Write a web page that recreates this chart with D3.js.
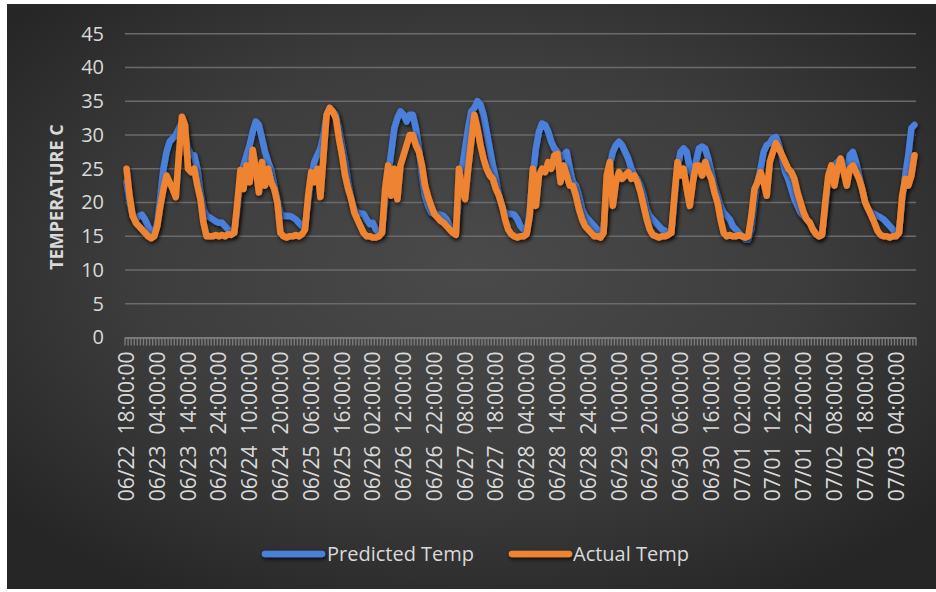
<!DOCTYPE html>
<html>
<head>
<meta charset="utf-8">
<script src="https://cdn.jsdelivr.net/npm/d3@7"></script>
<style>
  html, body { margin: 0; padding: 0; background: #ffffff; }
  svg { display: block; }
</style>
</head>
<body>
<svg id="chart" width="936" height="592"></svg>
<script>
// Hourly readings starting 06/22 18:00, one value per hour
const predictedTemp = [
  23, 20, 18, 17.5, 18, 18.2,
  17.5, 16.5, 15.5, 15.5, 17, 21, 25, 27.5, 29, 29.5, 30, 31, 32, 30, 28, 27, 27, 25, 21.5, 19, 18, 17.8, 17.5, 17.2,
  17, 17, 16.5, 16, 15.5, 15.5, 19, 23, 25.5, 27, 28.5, 30.5, 32, 31.5, 29.5, 27.5, 26, 24.8, 22.5, 20.5, 18.4, 18, 18, 18,
  17.8, 17.5, 17, 16.5, 16.5, 20, 23.5, 26, 27, 28, 30, 33, 34, 33.5, 33, 31, 28.5, 26, 23, 20.5, 19, 18.5, 18.4, 18.3,
  17.5, 16.8, 17, 16, 15.5, 15.5, 20, 24, 27.5, 31, 32.5, 33.5, 33, 32, 33, 33, 31, 28, 24, 21, 19.5, 18.5, 18.3, 18.3,
  18.2, 18, 17.5, 16.5, 16, 15.5, 21, 25, 28, 31, 33.5, 34, 35, 34.5, 33, 30.5, 28, 25.5, 23.5, 21, 19.5, 18.5, 18.3, 18.3,
  18.2, 17.5, 16.5, 16, 15.5, 19, 24, 28, 30.5, 31.7, 31.5, 30.5, 29, 28, 27.5, 26.5, 27, 27.5, 25, 23, 22.5, 21, 19, 18,
  17.5, 17, 16.5, 16, 15.5, 16, 22, 25.5, 27.5, 28.5, 29, 28.5, 27.5, 26.5, 25, 24, 23.5, 22.5, 21, 19, 18, 17.5, 17, 16.5,
  16, 15.8, 15.3, 15.5, 20, 25, 27.5, 28, 27.5, 25, 24, 26, 28, 28.3, 28, 26.5, 24.5, 22.5, 21, 19.5, 18.5, 18, 17.5, 16.5,
  16, 15.5, 15, 14.5, 14.5, 16, 20, 23, 25, 27.5, 28.5, 28.8, 29.5, 29.7, 28.5, 26.5, 24.5, 23.5, 22, 20.5, 19.5, 18.5, 18, 17.5,
  17, 16, 15.5, 15, 15.5, 19, 23, 25, 25.5, 26, 26.5, 25.5, 24.5, 27, 27.5, 26, 24, 22, 20, 19, 18.5, 18.3, 18, 17.8,
  17.5, 17, 16.5, 16, 15.3, 16, 20, 24, 27, 31, 31.5
];

const actualTemp = [
  25, 21, 18, 17, 16.5, 16,
  15.5, 15, 14.7, 15, 16.5, 19.5, 22, 24, 23, 22, 20.8, 27, 32.7, 31.5, 25, 24.5, 25, 22.5, 20.5, 17, 15, 15, 15, 15.2,
  15, 15.2, 15, 15.3, 15.2, 15.5, 20, 24.8, 22, 25.5, 23, 27.8, 25, 21.5, 26, 22.5, 25, 23, 22, 20, 15.5, 15, 14.8, 15,
  15, 15.2, 15, 15.3, 16, 21, 24.5, 23, 25, 20.8, 27, 33, 34, 33.5, 32.5, 29.5, 27, 24, 22, 20.5, 18.5, 17.5, 16.5, 15.5,
  15, 15, 14.8, 14.8, 15, 15.5, 22, 25.5, 21, 25, 20.5, 25.5, 27, 28.5, 30, 30, 28.5, 27.5, 25.5, 22.5, 20.8, 19.5, 18.3, 17.8,
  17.3, 17, 16.5, 16, 15.5, 15.2, 25, 22, 20.5, 25, 29, 33, 31, 28.5, 26.5, 25, 24, 23.5, 22, 21, 19.5, 17.5, 16, 15.3,
  15, 14.8, 15, 15, 15.3, 18, 25, 19.5, 24, 25, 24.5, 26, 25, 27, 27.2, 23, 25.5, 24, 22.5, 22.5, 21, 19, 17.5, 16.5,
  16, 15.5, 15, 15, 14.8, 15.5, 24, 26, 19.5, 23, 24.5, 23.5, 24, 24.5, 23.5, 24, 23, 21.5, 19.5, 17.5, 16, 15.2, 15, 14.8,
  15, 15, 15.2, 15.5, 21, 26, 24, 25, 22, 19.5, 23, 25.5, 25.5, 24, 26, 24.5, 23.5, 21.5, 20, 17.5, 15.5, 15, 15.2, 15,
  15, 15.2, 15, 14.8, 15, 18, 22, 23, 24.5, 23, 21, 26, 27.5, 28.8, 28, 27, 26, 25, 24.5, 23.5, 21.5, 20, 18.5, 17.5,
  17, 16, 15.3, 15, 15.2, 20, 24, 25.5, 22.5, 25, 26.5, 24.5, 22.5, 25, 25.5, 24.5, 23.5, 22, 20, 19, 18, 17, 15.8, 15.2,
  15, 15, 14.8, 15, 15, 15.5, 21, 23.5, 22.5, 24, 27
];

// Category labels shown on every tenth hour
const tickLabels = [
  "06/22  18:00:00", "06/23  04:00:00", "06/23  14:00:00", "06/23  24:00:00",
  "06/24  10:00:00", "06/24  20:00:00", "06/25  06:00:00", "06/25  16:00:00",
  "06/26  02:00:00", "06/26  12:00:00", "06/26  22:00:00", "06/27  08:00:00",
  "06/27  18:00:00", "06/28  04:00:00", "06/28  14:00:00", "06/28  24:00:00",
  "06/29  10:00:00", "06/29  20:00:00", "06/30  06:00:00", "06/30  16:00:00",
  "07/01  02:00:00", "07/01  12:00:00", "07/01  22:00:00", "07/02  08:00:00",
  "07/02  18:00:00", "07/03  04:00:00"
];
const labelEvery = 10;

const yTicks = [0, 5, 10, 15, 20, 25, 30, 35, 40, 45];
const seriesNames = ["Predicted Temp", "Actual Temp"];
const seriesColors = ["#4B80DA", "#EE8432"];
const yTitle = "TEMPERATURE C";

const FONT = "'Open Sans', 'DejaVu Sans', sans-serif";
const TEXT = "#d9d9d9";

const svg = d3.select("#chart");
const defs = svg.append("defs");

const grad = defs.append("radialGradient")
  .attr("id", "bg").attr("cx", "50%").attr("cy", "45%").attr("r", "65%");
grad.append("stop").attr("offset", "0%").attr("stop-color", "#4a4a4a");
grad.append("stop").attr("offset", "55%").attr("stop-color", "#3d3d3d");
grad.append("stop").attr("offset", "100%").attr("stop-color", "#262626");

// soft dark shadow under every series stroke (user space, so flat legend lines keep it)
const shadow = defs.append("filter").attr("id", "shadow")
  .attr("filterUnits", "userSpaceOnUse")
  .attr("x", 0).attr("y", 0).attr("width", 936).attr("height", 592);
shadow.append("feDropShadow")
  .attr("dx", 1).attr("dy", 2).attr("stdDeviation", 2.2)
  .attr("flood-color", "#000").attr("flood-opacity", 0.8);

// chart background
svg.append("rect")
  .attr("x", 7).attr("y", 4).attr("width", 929).attr("height", 585)
  .attr("fill", "url(#bg)");

const n = actualTemp.length;
const x = d3.scaleBand().domain(d3.range(n)).range([125, 916]).padding(0);
const y = d3.scaleLinear().domain([0, 45]).range([337.5, 33.75]);
const cx = i => x(i) + x.bandwidth() / 2;

// horizontal gridlines
svg.append("g").selectAll("line")
  .data(yTicks.filter(t => t > 0))
  .join("line")
  .attr("x1", 125).attr("x2", 916)
  .attr("y1", d => y(d)).attr("y2", d => y(d))
  .attr("stroke", "#6b6b6b").attr("stroke-width", 1.5);

// y axis labels
const yAxis = svg.append("g").attr("transform", "translate(104,0)")
  .call(d3.axisLeft(y).tickValues(yTicks).tickSize(0).tickPadding(0));
yAxis.select(".domain").remove();
yAxis.selectAll("text")
  .attr("fill", TEXT).style("font-family", FONT).style("font-size", "20px");

// y axis title
svg.append("text")
  .attr("transform", "translate(63,197) rotate(-90)")
  .attr("text-anchor", "middle")
  .attr("fill", TEXT)
  .style("font-family", FONT).style("font-size", "18px").style("font-weight", "bold")
  .text(yTitle);

// category axis: baseline with a tick between every hour
const axisG = svg.append("g").attr("transform", `translate(0,${y(0)})`);
axisG.append("line").attr("x1", 125).attr("x2", 916).attr("y1", 0.5).attr("y2", 0.5)
  .attr("stroke", "#7a7a7a").attr("stroke-width", 2);
axisG.append("g").selectAll("line")
  .data(d3.range(n + 1))
  .join("line")
  .attr("x1", k => 125 + k * x.bandwidth()).attr("x2", k => 125 + k * x.bandwidth())
  .attr("y1", 0).attr("y2", 8)
  .attr("stroke", "#7a7a7a").attr("stroke-width", 1.4);

const labelIdx = d3.range(0, n, labelEvery).filter(i => i / labelEvery < tickLabels.length);
const xAxis = svg.append("g").attr("transform", `translate(0,${y(0)})`)
  .call(d3.axisBottom(x).tickValues(labelIdx)
    .tickFormat(i => tickLabels[i / labelEvery]).tickSize(0).tickPadding(0));
xAxis.select(".domain").remove();
xAxis.selectAll("text")
  .attr("transform", "rotate(-90)")
  .attr("x", -14).attr("y", 0).attr("dy", "0.36em")
  .attr("text-anchor", "end")
  .attr("fill", TEXT)
  .style("font-family", FONT).style("font-size", "21px")
  .style("white-space", "pre")
  .attr("xml:space", "preserve");

// series lines
const line = d3.line().x((d, i) => cx(i)).y(d => y(d));
[predictedTemp, actualTemp].forEach((s, k) => {
  svg.append("path")
    .datum(s)
    .attr("d", line)
    .attr("fill", "none")
    .attr("stroke", seriesColors[k])
    .attr("stroke-width", 6.5)
    .attr("stroke-linejoin", "round")
    .attr("stroke-linecap", "round")
    .attr("filter", "url(#shadow)");
});

// legend
const legendPos = [{ lx: 265, tx: 327 }, { lx: 512, tx: 573 }];
const legend = svg.append("g");
seriesNames.forEach((name, k) => {
  legend.append("line")
    .attr("x1", legendPos[k].lx).attr("x2", legendPos[k].lx + 57)
    .attr("y1", 554).attr("y2", 554)
    .attr("stroke", seriesColors[k]).attr("stroke-width", 6.5)
    .attr("stroke-linecap", "round")
    .attr("filter", "url(#shadow)");
  legend.append("text")
    .attr("x", legendPos[k].tx).attr("y", 554).attr("dy", "0.35em")
    .attr("fill", TEXT)
    .style("font-family", FONT).style("font-size", "20px")
    .text(name);
});
</script>
</body>
</html>
